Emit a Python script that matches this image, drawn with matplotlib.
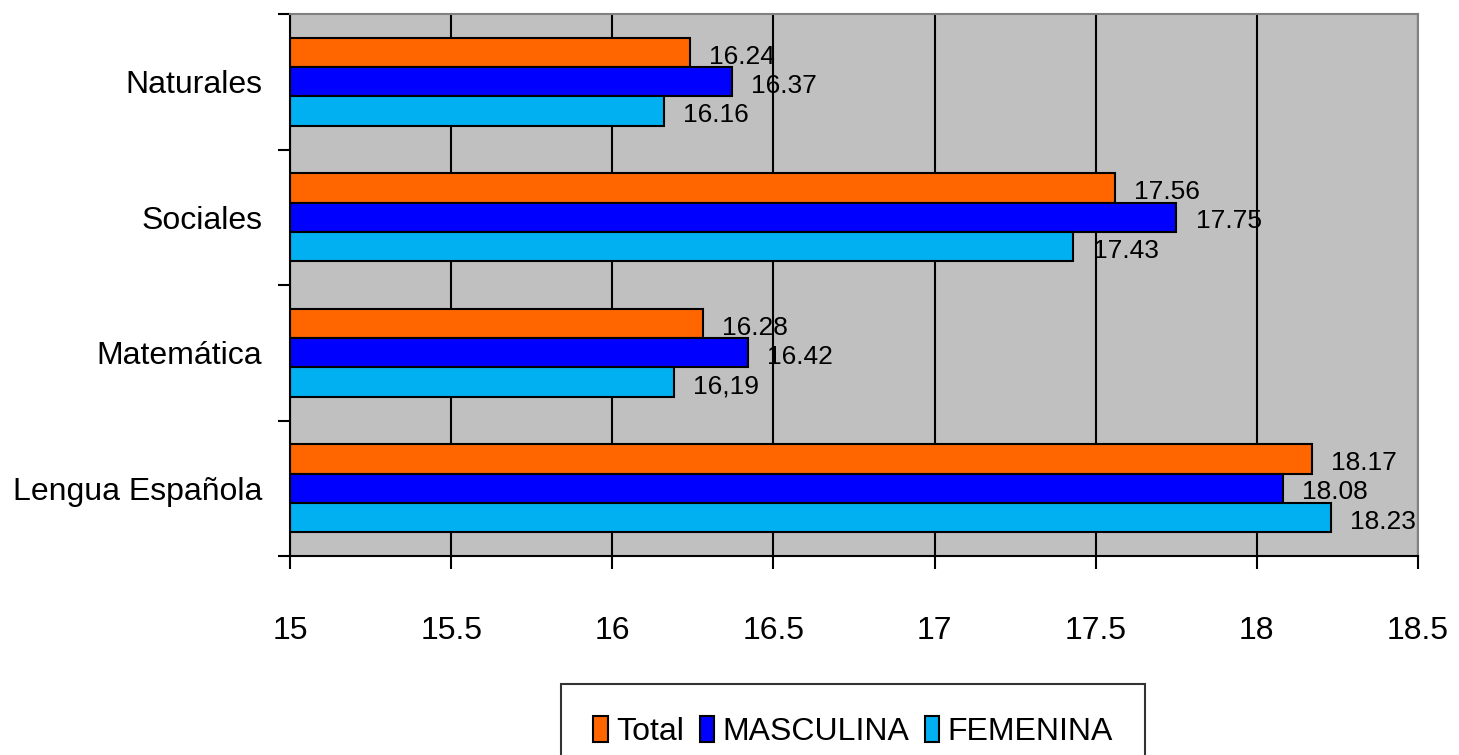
import matplotlib
matplotlib.use("Agg")
import matplotlib.pyplot as plt
import numpy as np
from matplotlib.ticker import FixedLocator

plt.rcParams['font.family'] = ['Liberation Sans Narrow', 'Liberation Sans', 'DejaVu Sans']

categories = ["Lengua Española", "Matemática", "Sociales", "Naturales"]
series_names = ["Total", "MASCULINA", "FEMENINA"]
total = [18.17, 16.28, 17.56, 16.24]
masculina = [18.08, 16.42, 17.75, 16.37]
femenina = [18.23, 16.19, 17.43, 16.16]
total_labels = ["18.17", "16.28", "17.56", "16.24"]
masc_labels = ["18.08", "16.42", "17.75", "16.37"]
fem_labels = ["18.23", "16,19", "17.43", "16.16"]
xticks = [15, 15.5, 16, 16.5, 17, 17.5, 18, 18.5]
xtick_labels = ["15", "15.5", "16", "16.5", "17", "17.5", "18", "18.5"]

colors = ["#FF6600", "#0000FF", "#00B0F0"]

fig = plt.figure(figsize=(14.59, 7.55), dpi=100)
ax = fig.add_axes([290/1459, 1-556/755, (1418-290)/1459, (556-14)/755])
ax.set_facecolor("#C0C0C0")

y = np.arange(len(categories))
h = 0.217
offsets = [h, 0, -h]
datasets = [total, masculina, femenina]
labelsets = [total_labels, masc_labels, fem_labels]

ax.set_axisbelow(True)
ax.xaxis.grid(True, color="black", linewidth=1.5)

for vals, labs, off, col, name in zip(datasets, labelsets, offsets, colors, series_names):
    ax.barh(y + off, np.array(vals) - 15, left=15, height=h, color=col,
            edgecolor="black", linewidth=1.5, label=name)
    for v, lab, yy in zip(vals, labs, y + off):
        ax.annotate(lab, xy=(v, yy), xytext=(14, -3), textcoords="offset points",
                    ha="left", va="center", fontsize=19)

ax.set_xlim(15, 18.5)
ax.set_ylim(-0.5, 3.5)
ax.set_xticks(xticks)
ax.set_xticklabels(xtick_labels, fontsize=23)
ax.set_yticks(y)
ax.set_yticklabels(categories, fontsize=23)
ax.yaxis.set_minor_locator(FixedLocator([-0.5, 0.5, 1.5, 2.5, 3.5]))
ax.tick_params(axis='y', which='major', length=0, pad=20)
ax.tick_params(axis='y', which='minor', length=9, width=1.5, direction='out')
ax.tick_params(axis='x', which='major', length=9, width=1.5, direction='out', pad=34)

for s in ['left', 'bottom']:
    ax.spines[s].set_color('black')
    ax.spines[s].set_linewidth(1.5)
for s in ['top', 'right']:
    ax.spines[s].set_color('#808080')
    ax.spines[s].set_linewidth(1.5)

leg = fig.legend(loc='upper center', bbox_to_anchor=(853/1459, 1-684/755), ncol=3,
                 fontsize=23, frameon=True, fancybox=False, edgecolor='black',
                 handlelength=0.45, handleheight=0.9, handletextpad=0.25, columnspacing=0.5,
                 borderpad=1.0, borderaxespad=0)
leg.get_frame().set_linewidth(1.5)

fig.savefig("out.png", dpi=100)
